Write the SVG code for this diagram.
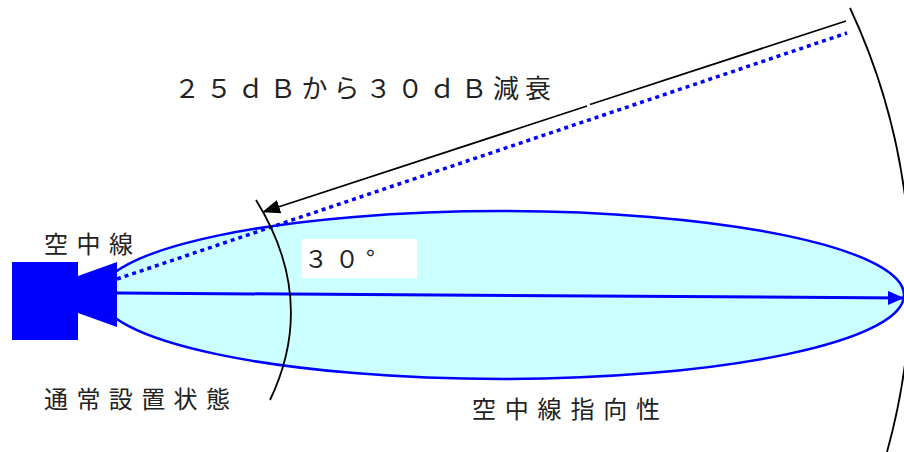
<svg xmlns="http://www.w3.org/2000/svg" width="904" height="452" viewBox="0 0 904 452">
<style>
.t{font-family:"Noto Sans CJK JP","Noto Sans",sans-serif;fill:#222;}
.k{stroke:#000;stroke-width:1.8;fill:none;}
</style>
<defs>
<marker id="ab" markerWidth="16" markerHeight="14" refX="15" refY="7" orient="auto" markerUnits="userSpaceOnUse"><path d="M0,0 L16,7 L0,14 Z" fill="#0000ff"/></marker>
<marker id="ak" markerWidth="18" markerHeight="14" refX="17" refY="7" orient="auto" markerUnits="userSpaceOnUse"><path d="M0,0 L18,7 L0,14 Z" fill="#000"/></marker>
</defs>
<rect width="904" height="452" fill="#fff"/>
<g id="pattern">
<ellipse cx="502" cy="295" rx="402" ry="84" fill="#ccffff" stroke="#0000ff" stroke-width="2.5"/>
</g>
<g id="antenna">
<rect x="12" y="262" width="66" height="78" fill="#0000ff"/>
<polygon points="78,276 117,262 117,327 78,313" fill="#0000ff"/>
</g>
<g id="angle-label">
<rect x="302" y="239" width="115" height="39" fill="#fff"/>
<text class="t" x="304" y="268" font-size="24" letter-spacing="7">３０°</text>
</g>
<g id="connectors">
<line x1="117" y1="293" x2="903" y2="298" stroke="#0000ff" stroke-width="3" marker-end="url(#ab)"/>
<line x1="117" y1="279" x2="847" y2="33" stroke="#0000ff" stroke-width="3.5" stroke-dasharray="4,4"/>
<line x1="846" y1="21" x2="590" y2="104.5" class="k"/>
<line x1="587" y1="106" x2="263" y2="212" class="k" marker-end="url(#ak)"/>
<path d="M256,200 Q318,300 270,400" class="k"/>
<path d="M850,8 A642,642 0 0,1 887,452" class="k"/>
</g>
<g id="labels">
<text class="t" x="174" y="98" font-size="26" letter-spacing="5.9">２５ｄＢから３０ｄＢ減衰</text>
<text class="t" x="44" y="253" font-size="24" letter-spacing="8.5">空中線</text>
<text class="t" x="44" y="408" font-size="24" letter-spacing="8.4">通常設置状態</text>
<text class="t" x="472" y="418" font-size="24" letter-spacing="8.8">空中線指向性</text>
</g>
</svg>
